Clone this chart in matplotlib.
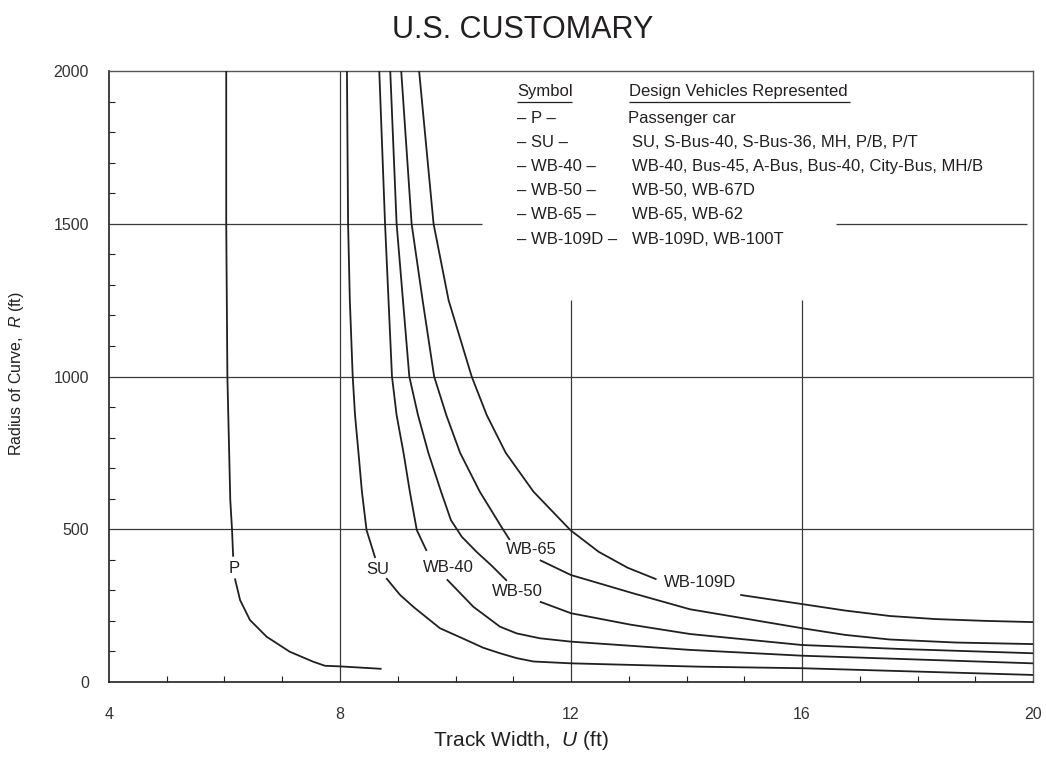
import numpy as np
import matplotlib.pyplot as plt
from matplotlib.ticker import MultipleLocator

plt.rcParams['font.family'] = ['Liberation Sans', 'DejaVu Sans']
plt.rcParams['mathtext.fontset'] = 'custom'
plt.rcParams['mathtext.it'] = 'Liberation Sans:italic'
plt.rcParams['mathtext.rm'] = 'Liberation Sans'

# track width U (ft) against radius R (ft); each curve is broken where its label sits
p_hi_u = [6.03, 6.03, 6.05, 6.10, 6.13, 6.15]
p_hi_r = [2000, 1500, 1000, 596, 500, 410]
p_lo_u = [6.18, 6.27, 6.44, 6.73, 7.13, 7.54, 7.74, 8.00, 8.72]
p_lo_r = [339, 268, 203, 148, 99, 66, 53, 51, 43]

su_hi_u = [8.12, 8.14, 8.17, 8.22, 8.26, 8.32, 8.38, 8.46, 8.61]
su_hi_r = [2000, 1500, 1250, 1000, 874, 750, 622, 497, 406]
su_lo_u = [8.80, 9.04, 9.27, 9.73, 10.19, 10.48, 10.77, 11.06, 11.35, 12.00, 14.23, 16.00, 20.00]
su_lo_r = [340, 285, 246, 176, 137, 112, 94, 78, 67, 61, 50, 45, 23]

wb40_hi_u = [8.68, 8.78, 8.84, 8.90, 8.98, 9.10, 9.21, 9.33, 9.50]
wb40_hi_r = [2000, 1500, 1250, 1000, 874, 750, 622, 497, 429]
wb40_lo_u = [9.85, 10.31, 10.77, 11.06, 11.46, 12.00, 14.06, 16.00, 20.00]
wb40_lo_r = [336, 246, 181, 159, 143, 132, 105, 86, 61]

wb50_hi_u = [8.87, 8.98, 9.09, 9.20, 9.35, 9.53, 9.75, 9.92, 10.11, 10.37, 10.63, 10.89]
wb50_hi_r = [2000, 1500, 1250, 1000, 874, 750, 623, 530, 475, 425, 380, 331]
wb50_lo_u = [11.46, 12.00, 13.02, 14.06, 16.00, 17.70, 20.00]
wb50_lo_r = [263, 225, 188, 157, 121, 108, 94]

wb65_hi_u = [9.06, 9.24, 9.43, 9.63, 9.84, 10.08, 10.42, 10.83, 10.94]
wb65_hi_r = [2000, 1500, 1250, 1000, 874, 750, 623, 497, 465]
wb65_lo_u = [11.46, 12.00, 13.08, 14.06, 16.00, 16.75, 17.52, 18.68, 20.00]
wb65_lo_r = [399, 350, 290, 238, 176, 154, 139, 129, 124]

wb109_hi_u = [9.37, 9.62, 9.88, 10.28, 10.54, 10.87, 11.35, 11.99, 12.48, 12.98, 13.48]
wb109_hi_r = [2000, 1500, 1250, 1000, 874, 750, 623, 497, 426, 374, 336]
wb109_lo_u = [14.93, 16.00, 16.74, 17.52, 18.30, 19.17, 20.00]
wb109_lo_r = [285, 255, 234, 216, 206, 200, 196]

curve_names = ['P', 'SU', 'WB-40', 'WB-50', 'WB-65', 'WB-109D']
label_u = [6.16, 8.66, 9.87, 11.07, 11.32, 14.23]
label_r = [373, 367, 376, 295, 435, 324]

symbols = ['\u2013 P \u2013', '\u2013 SU \u2013', '\u2013 WB-40 \u2013', '\u2013 WB-50 \u2013',
           '\u2013 WB-65 \u2013', '\u2013 WB-109D \u2013']
vehicles = ['Passenger car', 'SU, S-Bus-40, S-Bus-36, MH, P/B, P/T',
            'WB-40, Bus-45, A-Bus, Bus-40, City-Bus, MH/B', 'WB-50, WB-67D',
            'WB-65, WB-62', 'WB-109D, WB-100T']

ink = '#231f20'
grid = '#3a3a3a'

fig = plt.figure(figsize=(10.46, 7.63), dpi=100)
ax = fig.add_axes([0.1042, 0.1062, 0.8834, 0.8007])

segments = [(p_hi_u, p_hi_r), (p_lo_u, p_lo_r), (su_hi_u, su_hi_r), (su_lo_u, su_lo_r),
            (wb40_hi_u, wb40_hi_r), (wb40_lo_u, wb40_lo_r), (wb50_hi_u, wb50_hi_r),
            (wb50_lo_u, wb50_lo_r), (wb65_hi_u, wb65_hi_r), (wb65_lo_u, wb65_lo_r),
            (wb109_hi_u, wb109_hi_r), (wb109_lo_u, wb109_lo_r)]
for u, r in segments:
    ax.plot(u, r, color=ink, lw=1.3, solid_capstyle='butt', solid_joinstyle='round', zorder=3)

for name, u, r in zip(curve_names, label_u, label_r):
    ax.text(u, r, name, fontsize=12, color=ink, ha='center', va='center')

# grid, partly hidden behind the table
ax.axhline(500, color=grid, lw=0.9, zorder=1)
ax.axhline(1000, color=grid, lw=0.9, zorder=1)
ax.hlines(1500, 4, 10.46, color=grid, lw=0.9, zorder=1)
ax.hlines(1500, 16.59, 19.9, color=grid, lw=0.9, zorder=1)
ax.axvline(8, color=grid, lw=0.9, zorder=1)
ax.vlines([12, 16], 0, 1250, color=grid, lw=0.9, zorder=1)

# symbol table
ax.text(11.07, 1932, 'Symbol', fontsize=12, color=ink, va='center')
ax.text(13.0, 1932, 'Design Vehicles Represented', fontsize=12, color=ink, va='center')
ax.hlines(1900, 11.07, 12.02, color=ink, lw=0.9)
ax.hlines(1900, 13.0, 16.83, color=ink, lw=0.9)
for i, (s, v) in enumerate(zip(symbols, vehicles)):
    y = 1845 - i * 79
    ax.text(11.07, y, s, fontsize=12, color=ink, va='center')
    ax.text(13.06 if i else 12.98, y, v, fontsize=12, color=ink, va='center')

ax.set_xlim(4, 20)
ax.set_ylim(0, 2000)
ax.set_xticks([4, 8, 12, 16, 20])
ax.set_yticks([0, 500, 1000, 1500, 2000])
ax.xaxis.set_minor_locator(MultipleLocator(1))
ax.yaxis.set_minor_locator(MultipleLocator(100))
ax.tick_params(which='both', direction='in', top=False, right=False, color=ink)
ax.tick_params(which='major', length=0, labelsize=11.5, labelcolor='#333333')
ax.tick_params(axis='x', which='major', pad=18)
ax.tick_params(axis='y', which='major', pad=14.5)
ax.tick_params(which='minor', length=4, width=0.8)
for side in ['left', 'bottom']:
    ax.spines[side].set_color(ink)
    ax.spines[side].set_linewidth(1.2)
for side in ['top', 'right']:
    ax.spines[side].set_color('#555555')
    ax.spines[side].set_linewidth(1.0)

fig.text(0.5, 0.961, 'U.S. CUSTOMARY', fontsize=22, color=ink, ha='center', va='center')
fig.text(0.498, 0.029, 'Track Width,  $U$ (ft)', fontsize=15, color=ink, ha='center', va='center')
fig.text(0.016, 0.51, 'Radius of Curve,  $R$ (ft)', fontsize=11.5, color=ink, ha='center',
         va='center', rotation=90)

fig.savefig('out.png', dpi=100)
